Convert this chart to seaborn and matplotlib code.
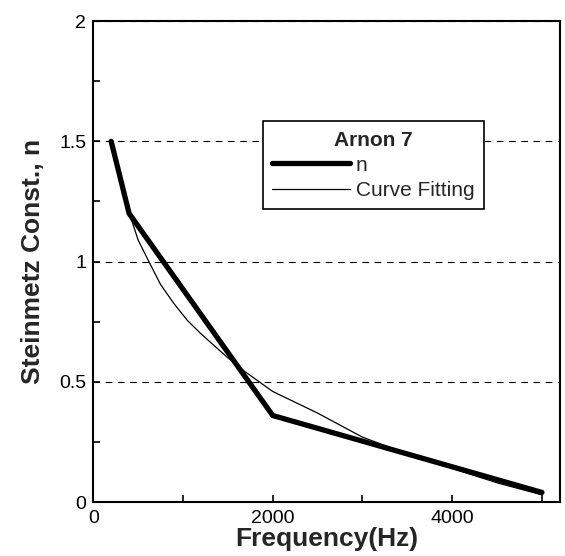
import matplotlib
matplotlib.use("Agg")
import matplotlib.pyplot as plt
from matplotlib.ticker import MultipleLocator
import seaborn as sns
import pandas as pd

# Measured Steinmetz constant
freq_n = [200, 400, 2000, 5000]
n_vals = [1.50, 1.20, 0.36, 0.04]

# Curve fitting
fit_freq = [430, 500, 620, 750, 900, 1050, 1200, 1350, 1500, 1700, 2000, 2500, 3000, 3500, 4000, 4500, 5000]
fit_n = [1.17, 1.09, 1.00, 0.905, 0.825, 0.755, 0.70, 0.65, 0.60, 0.54, 0.46, 0.37, 0.27, 0.20, 0.14, 0.08, 0.03]

legend_title = "Arnon 7"
label_n = "n"
label_fit = "Curve Fitting"

sns.set_style("ticks")
plt.rcParams['font.family'] = ['Liberation Sans', 'DejaVu Sans']

fig = plt.figure(figsize=(5.65, 5.56), dpi=100)
ax = fig.add_axes([0.165, 0.097, 0.826, 0.865])

df_n = pd.DataFrame({"f": freq_n, "n": n_vals})
df_fit = pd.DataFrame({"f": fit_freq, "n": fit_n})

sns.lineplot(data=df_n, x="f", y="n", ax=ax, color="black", lw=3.8,
             label=label_n, solid_capstyle="round", zorder=3)
sns.lineplot(data=df_fit, x="f", y="n", ax=ax, color="black", lw=0.9,
             label=label_fit, zorder=4)

ax.set_xlim(0, 5200)
ax.set_ylim(0, 2)
ax.xaxis.set_major_locator(MultipleLocator(2000))
ax.xaxis.set_minor_locator(MultipleLocator(1000))
ax.yaxis.set_minor_locator(MultipleLocator(0.25))
ax.set_yticks([0, 0.5, 1, 1.5, 2])
ax.set_yticklabels(["0", "0.5", "1", "1.5", "2"])

ax.tick_params(which="both", direction="in", length=5, width=1.2, colors="black",
               labelsize=14, top=False, right=False)
ax.tick_params(axis="x", pad=6)
ax.tick_params(axis="y", pad=5)

for s in ax.spines.values():
    s.set_visible(True)
    s.set_color("black")
    s.set_linewidth(1.5)

ax.yaxis.grid(True, which="major", linestyle=(0, (6, 5)), color="black", lw=0.8)
ax.xaxis.grid(False)

ax.set_xlabel("Frequency(Hz)", fontsize=19, fontweight="bold", labelpad=0)
ax.set_ylabel("Steinmetz Const., n", fontsize=19, fontweight="bold", labelpad=10)

leg = ax.legend(title=legend_title, loc="upper left", bbox_to_anchor=(0.364, 0.792),
                frameon=True, fancybox=False, fontsize=15, handlelength=3.7,
                handletextpad=0.3, borderpad=0.45, labelspacing=0.3, borderaxespad=0)
leg.get_title().set_fontweight("bold")
leg.get_title().set_fontsize(15)
leg.get_frame().set_edgecolor("black")
leg.get_frame().set_linewidth(1.2)
leg.get_frame().set_alpha(1)

fig.savefig("out.png", dpi=100)
